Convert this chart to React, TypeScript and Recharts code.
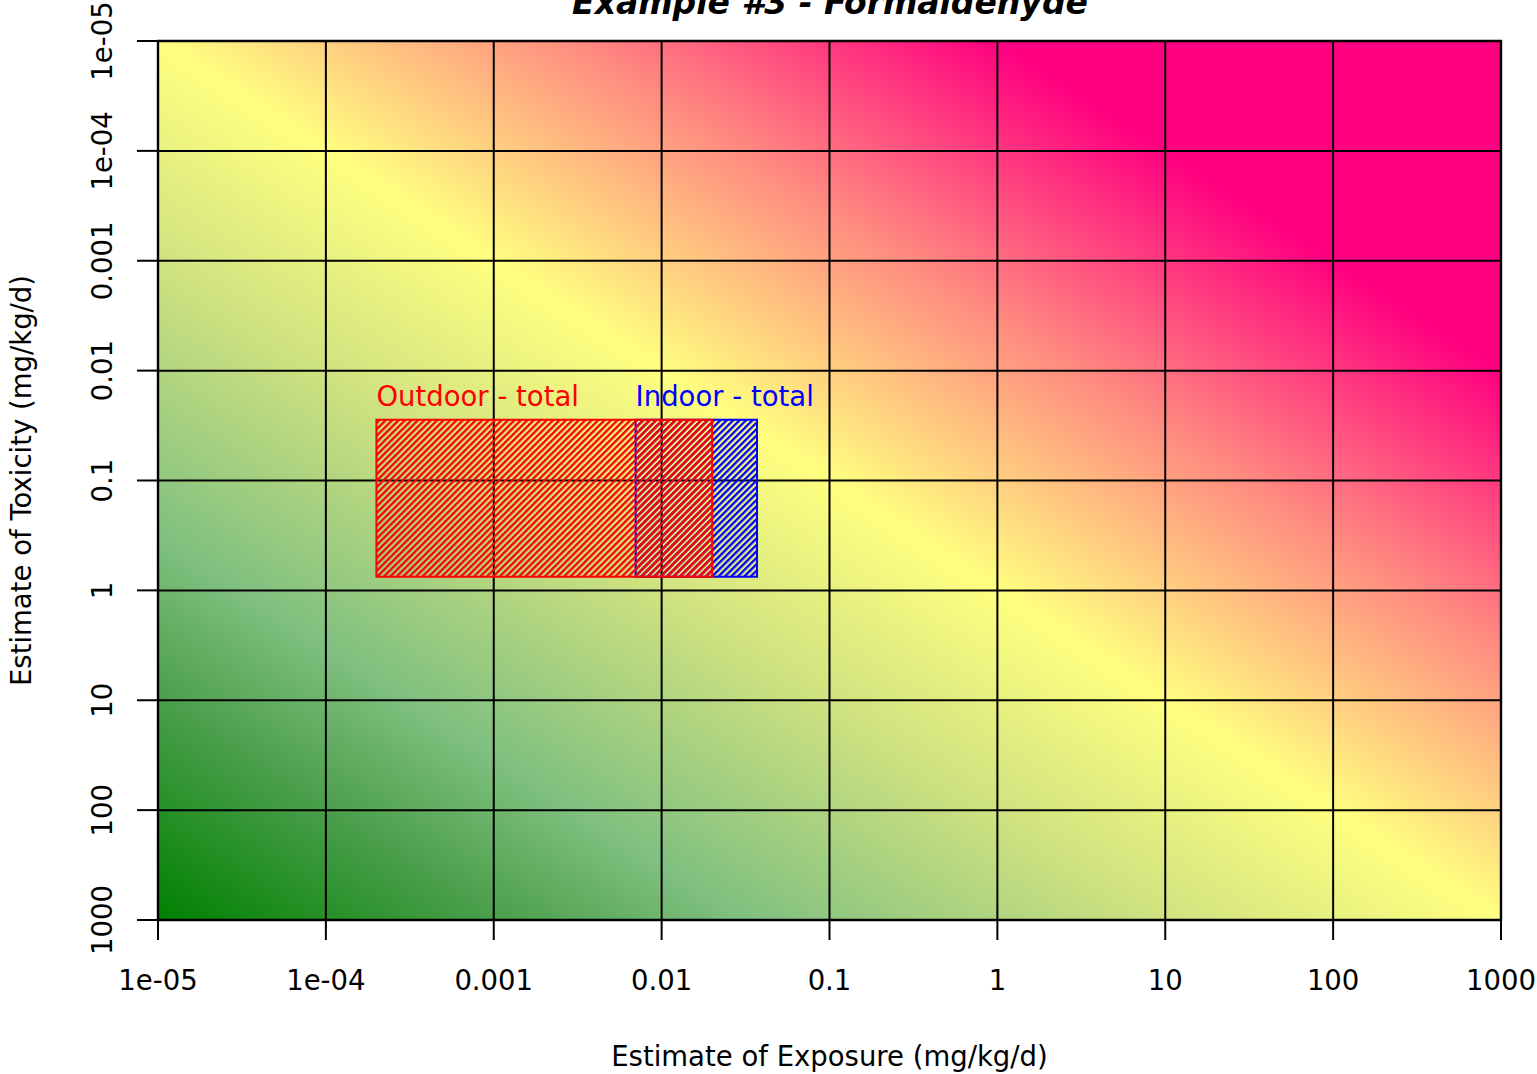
import React from 'react';
import { ComposedChart, XAxis, YAxis, CartesianGrid, ReferenceArea } from 'recharts';

// ---- data ----
const xTicks = [1e-5, 1e-4, 1e-3, 1e-2, 1e-1, 1, 10, 100, 1000];
const xTickLabels = ['1e-05', '1e-04', '0.001', '0.01', '0.1', '1', '10', '100', '1000'];
const yTicks = [1e-5, 1e-4, 1e-3, 1e-2, 1e-1, 1, 10, 100, 1000];
const yTickLabels = ['1e-05', '1e-04', '0.001', '0.01', '0.1', '1', '10', '100', '1000'];
const xDomain = [1e-5, 1000];
const yDomain = [1e-5, 1000];

// boxes: drawn in this order (indoor first, outdoor on top)
const boxNames = ['Indoor - total', 'Outdoor - total'];
const boxExposureLow = [0.007, 2e-4];
const boxExposureHigh = [0.037, 0.02];
const boxToxicityLow = [0.028, 0.028];
const boxToxicityHigh = [0.75, 0.75];
const boxColors = ['#0000ff', '#ff0000'];
const boxPatterns = ['hatchBlue', 'hatchRed'];

const titleText = 'Example #3 - Formaldehyde';
const xLabelText = 'Estimate of Exposure (mg/kg/d)';
const yLabelText = 'Estimate of Toxicity (mg/kg/d)';

const FONT = 'DejaVu Sans';
const FS = 27.5;

const labelFor = (ticks: number[], labels: string[], v: number, index?: number) => {
  if (typeof index === 'number' && labels[index] !== undefined && Math.abs(Math.log10(ticks[index]) - Math.log10(v)) < 1e-6) return labels[index];
  let best = 0;
  let bd = Infinity;
  ticks.forEach((t, i) => {
    const d = Math.abs(Math.log10(t) - Math.log10(v));
    if (d < bd) { bd = d; best = i; }
  });
  return labels[best];
};

const XTick = (props: any) => {
  const { x, y, payload, index } = props;
  return (
    <text x={x} y={y + 48} textAnchor="middle" fontSize={FS} fontFamily={FONT} fill="#000">
      {labelFor(xTicks, xTickLabels, payload.value, index)}
    </text>
  );
};

const YTick = (props: any) => {
  const { x, y, payload, index } = props;
  const bx = x - 23;
  return (
    <text x={bx} y={y} transform={`rotate(-90, ${bx}, ${y})`} textAnchor="middle" fontSize={FS} fontFamily={FONT} fill="#000">
      {labelFor(yTicks, yTickLabels, payload.value, index)}
    </text>
  );
};

const XLabel = (props: any) => {
  const vb = props.viewBox || {};
  return (
    <text x={vb.x + vb.width / 2} y={vb.y + 146} textAnchor="middle" fontSize={FS} fontFamily={FONT} fill="#000">
      {xLabelText}
    </text>
  );
};

const YLabel = (props: any) => {
  const vb = props.viewBox || {};
  const cx = vb.x + 31;
  const cy = vb.y + vb.height / 2;
  return (
    <text x={cx} y={cy} transform={`rotate(-90, ${cx}, ${cy})`} textAnchor="middle" fontSize={FS} fontFamily={FONT} fill="#000">
      {yLabelText}
    </text>
  );
};

const makeBoxLabel = (text: string, color: string) => (props: any) => {
  const vb = props.viewBox || {};
  return (
    <text x={vb.x} y={vb.y - 14} textAnchor="start" fontSize={FS} fontFamily={FONT} fill={color}>
      {text}
    </text>
  );
};

export default function App() {
  return (
    <div style={{ position: 'absolute', left: 0, top: 0, width: 1537, height: 1074, background: '#fff' }}>
      <ComposedChart width={1537} height={1074} margin={{ top: 41, right: 36, bottom: 0, left: 0 }} data={[]}>
        <defs>
          <linearGradient id="bgGrad" x1="0" y1="1" x2="1" y2="0">
            <stop offset="0" stopColor="#008000" />
            <stop offset="0.125" stopColor="#4a9e4a" />
            <stop offset="0.219" stopColor="#80c080" />
            <stop offset="0.375" stopColor="#d0e280" />
            <stop offset="0.5" stopColor="#ffff80" />
            <stop offset="0.656" stopColor="#ff8a80" />
            <stop offset="0.8125" stopColor="#ff0080" />
            <stop offset="1" stopColor="#ff0080" />
          </linearGradient>
          <pattern id="hatchRed" patternUnits="userSpaceOnUse" width="4.55" height="4.55" patternTransform="rotate(45)">
            <rect x="0" y="0" width="2.3" height="4.55" fill="#ff0000" />
          </pattern>
          <pattern id="hatchBlue" patternUnits="userSpaceOnUse" width="4.55" height="4.55" patternTransform="rotate(45)">
            <rect x="0" y="0" width="2.3" height="4.55" fill="#0000ff" />
          </pattern>
        </defs>
        <XAxis
          type="number"
          dataKey="x"
          scale="log"
          domain={xDomain}
          ticks={xTicks}
          interval={0}
          allowDataOverflow
          height={154}
          tickSize={20}
          tick={<XTick />}
          axisLine={{ stroke: '#000', strokeWidth: 2 }}
          tickLine={{ stroke: '#000', strokeWidth: 2 }}
          label={XLabel}
        />
        <YAxis
          type="number"
          dataKey="y"
          scale="log"
          domain={yDomain}
          ticks={yTicks}
          interval={0}
          reversed
          allowDataOverflow
          width={158}
          tickSize={21}
          tick={<YTick />}
          axisLine={{ stroke: '#000', strokeWidth: 2 }}
          tickLine={{ stroke: '#000', strokeWidth: 2 }}
          label={YLabel}
        />
        <ReferenceArea
          x1={xDomain[0]}
          x2={xDomain[1]}
          y1={yDomain[0]}
          y2={yDomain[1]}
          fill="url(#bgGrad)"
          fillOpacity={1}
          stroke="none"
          zIndex={-200}
        />
        <CartesianGrid stroke="#000" strokeWidth={2} strokeOpacity={1} zIndex={-100} />
        {boxNames.map((name, i) => (
          <ReferenceArea
            key={name}
            x1={boxExposureLow[i]}
            x2={boxExposureHigh[i]}
            y1={boxToxicityLow[i]}
            y2={boxToxicityHigh[i]}
            fill={`url(#${boxPatterns[i]})`}
            fillOpacity={1}
            stroke={boxColors[i]}
            strokeWidth={2}
            strokeOpacity={1}
            label={makeBoxLabel(name, boxColors[i])}
            zIndex={100 + i}
          />
        ))}
        <ReferenceArea
          x1={xDomain[0]}
          x2={xDomain[1]}
          y1={yDomain[0]}
          y2={yDomain[1]}
          fill="none"
          stroke="#000"
          strokeWidth={2.4}
          zIndex={150}
        />
      </ComposedChart>
      <svg width={1537} height={40} style={{ position: 'absolute', left: 0, top: 0 }}>
        <text x={830} y={14} textAnchor="middle" fontSize={33} fontWeight="bold" fontStyle="italic" fontFamily={FONT} fill="#000">
          {titleText}
        </text>
      </svg>
    </div>
  );
}
